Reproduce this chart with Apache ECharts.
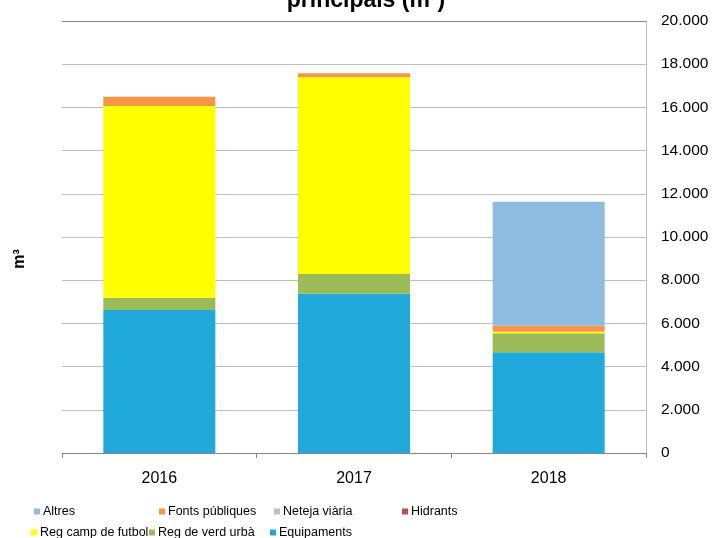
<!DOCTYPE html>
<html>
<head>
<meta charset="utf-8">
<script src="https://cdn.jsdelivr.net/npm/echarts@6/dist/echarts.min.js"></script>
<style>
  html, body { margin: 0; padding: 0; background: #fff; }
  #chart { width: 714px; height: 538px; }
</style>
</head>
<body>
<div id="chart"></div>
<script>
// Annual water consumption by use, cubic metres
const categories = ['2016', '2017', '2018'];
const equipaments = [6620, 7375, 4660];
const regVerdUrba = [570, 910, 880];
const regCampFutbol = [8870, 9110, 75];
const hidrants = [0, 0, 0];
const netejaViaria = [0, 0, 0];
const fontsPubliques = [430, 185, 280];
const altres = [0, 0, 5740];

const yTicks = { min: 0, max: 20000, interval: 2000 };

const FONT = 'Liberation Sans, Arial, sans-serif';

// Stacked from the bottom up
const seriesDefs = [
  { name: 'Equipaments', data: equipaments, color: '#21A9DB' },
  { name: 'Reg de verd urbà', data: regVerdUrba, color: '#9BBB59' },
  { name: 'Reg camp de futbol', data: regCampFutbol, color: '#FFFF00' },
  { name: 'Hidrants', data: hidrants, color: '#C0504D' },
  { name: 'Neteja viària', data: netejaViaria, color: '#BFBFBF' },
  { name: 'Fonts públiques', data: fontsPubliques, color: '#F79646' },
  { name: 'Altres', data: altres, color: '#8EBCE0' }
];

// Legend laid out in a 4-column grid, two rows
const legendSlots = [
  { name: 'Altres', left: 34, top: 505 },
  { name: 'Fonts públiques', left: 159, top: 505 },
  { name: 'Neteja viària', left: 274, top: 505 },
  { name: 'Hidrants', left: 402, top: 505 },
  { name: 'Reg camp de futbol', left: 31, top: 526 },
  { name: 'Reg de verd urbà', left: 149, top: 526 },
  { name: 'Equipaments', left: 270, top: 526 }
];

const chart = echarts.init(document.getElementById('chart'));

chart.setOption({
  animation: false,
  backgroundColor: '#ffffff',
  textStyle: { fontFamily: FONT },
  grid: { left: 62, right: 68, top: 21, bottom: 85, containLabel: false },
  legend: legendSlots.map(s => ({
    data: [s.name],
    left: s.left,
    top: s.top,
    icon: 'rect',
    itemWidth: 6,
    itemHeight: 6,
    itemGap: 0,
    padding: 0,
    selectedMode: false,
    textStyle: { fontFamily: FONT, fontSize: 12.5, color: '#000', padding: [0, 0, 0, -2] }
  })),
  xAxis: [
    {
      type: 'category',
      data: categories,
      position: 'bottom',
      axisLine: { lineStyle: { color: '#868686', width: 1 } },
      axisTick: { show: true, length: 5, lineStyle: { color: '#868686' } },
      axisLabel: { color: '#000', fontSize: 16, fontFamily: FONT, margin: 18 }
    },
    {
      type: 'category',
      data: categories,
      position: 'top',
      axisLine: { show: true, lineStyle: { color: '#868686', width: 1 } },
      axisTick: { show: false },
      axisLabel: { show: false }
    }
  ],
  yAxis: {
    type: 'value',
    position: 'right',
    min: yTicks.min,
    max: yTicks.max,
    interval: yTicks.interval,
    axisLine: { show: true, lineStyle: { color: '#BEBEBE' } },
    axisTick: { show: false },
    splitLine: { show: true, lineStyle: { color: '#BEBEBE', width: 1 } },
    axisLabel: {
      color: '#000',
      fontSize: 15.5,
      fontFamily: FONT,
      margin: 15,
      formatter: v => v.toString().replace(/\B(?=(\d{3})+(?!\d))/g, '.')
    }
  },
  series: seriesDefs.map(s => ({
    name: s.name,
    type: 'bar',
    stack: 'total',
    data: s.data,
    barWidth: 112,
    itemStyle: { color: s.color },
    emphasis: { disabled: true }
  })),
  graphic: [
    {
      type: 'text',
      x: 366,
      y: 12,
      style: {
        text: 'principals (m³)',
        fontFamily: FONT,
        fontSize: 23,
        fontWeight: 'bold',
        fill: '#000',
        align: 'center',
        verticalAlign: 'bottom'
      }
    },
    {
      type: 'text',
      x: 20,
      y: 259,
      rotation: Math.PI / 2,
      style: {
        text: 'm³',
        fontFamily: FONT,
        fontSize: 16,
        fontWeight: 'bold',
        fill: '#000',
        align: 'center',
        verticalAlign: 'middle'
      }
    }
  ]
});
</script>
</body>
</html>
